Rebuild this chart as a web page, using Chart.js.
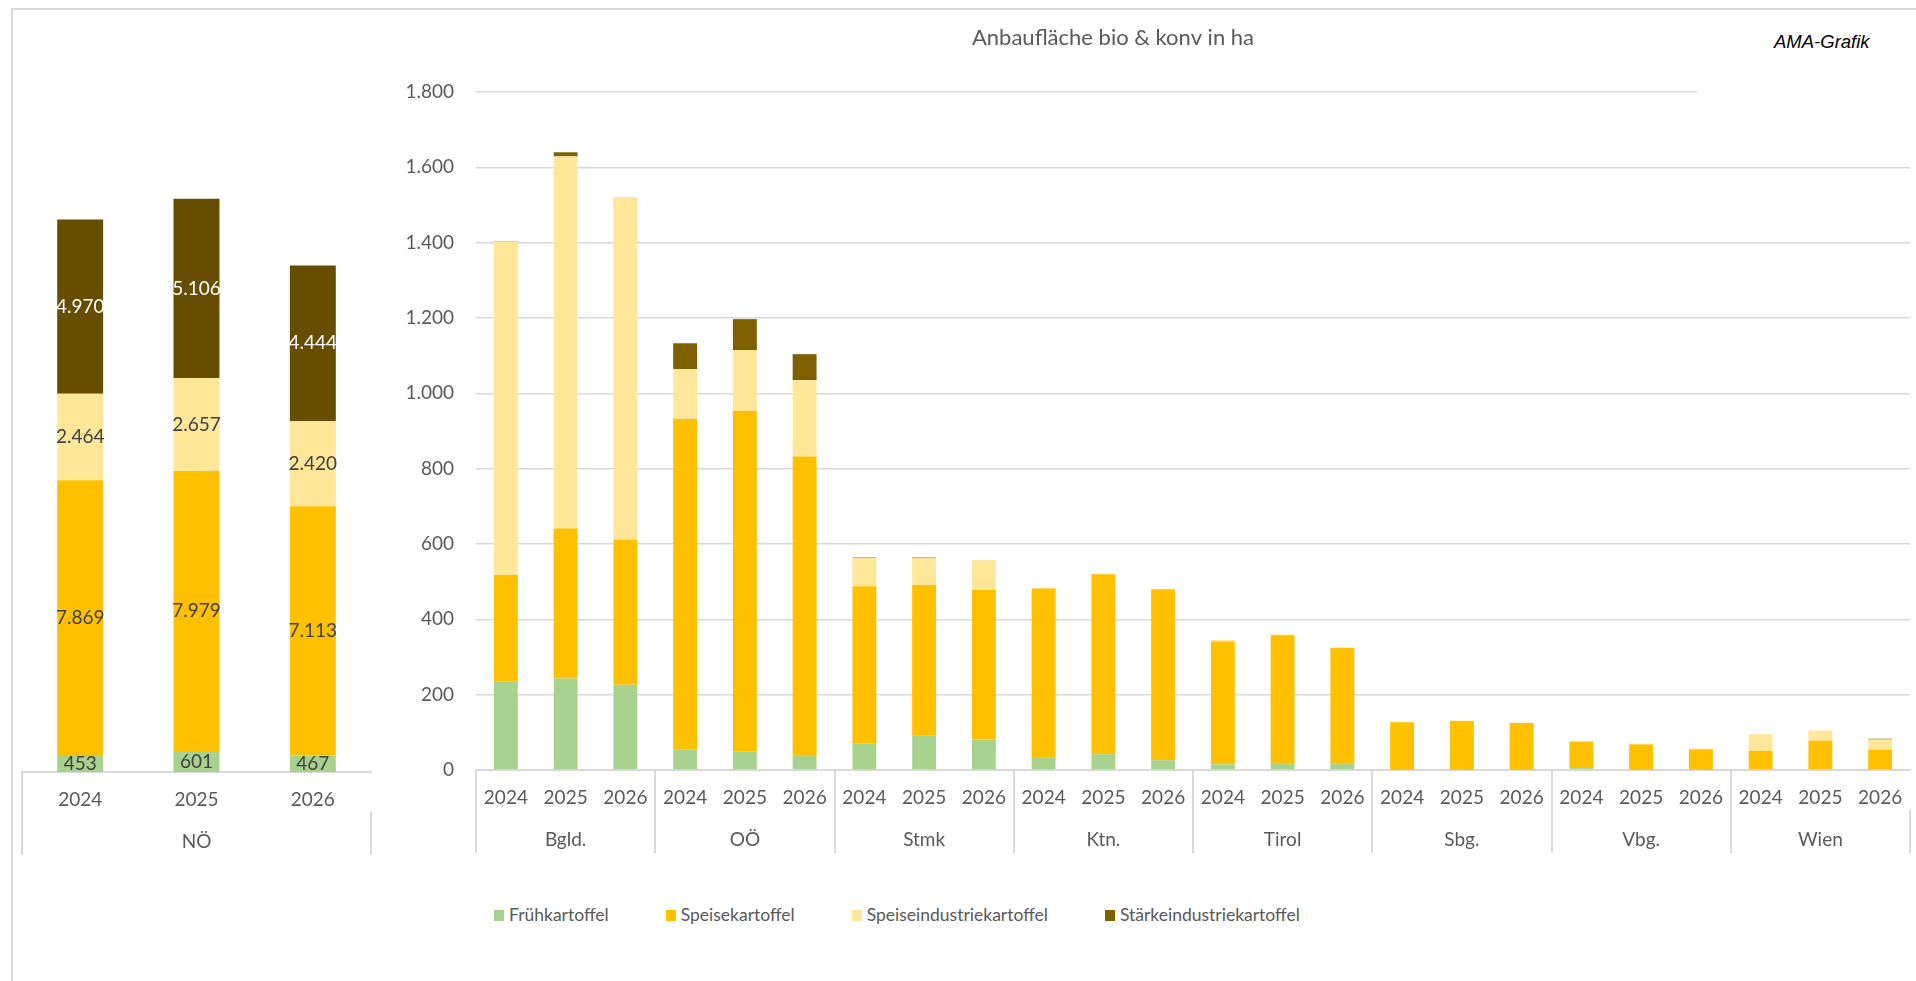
<!DOCTYPE html>
<html>
<head>
<meta charset="utf-8">
<script src="https://cdn.jsdelivr.net/npm/chart.js@4.4.1/dist/chart.umd.min.js"></script>
<style>
html,body{margin:0;padding:0;background:#fff;width:1916px;height:981px;overflow:hidden;font-family:Lato,sans-serif;}
#frame{position:absolute;left:11px;top:8px;width:1930px;height:1000px;border-left:2px solid #D9D9D9;border-top:2px solid #D9D9D9;}
#noe{position:absolute;left:0;top:0;}
#main{position:absolute;left:316px;top:0;}
#ama{position:absolute;left:1697px;top:22px;width:219px;height:80px;background:#fff;}
#ama span{position:absolute;left:77px;top:10px;font:italic 18.5px "Liberation Sans",Arial,sans-serif;line-height:20px;color:#000;white-space:nowrap;}
#legend{position:absolute;top:905px;left:494px;display:flex;gap:57px;}
.li{white-space:nowrap;font-size:17.5px;color:#595959;line-height:20px;display:flex;align-items:center;}
.sw{display:inline-block;width:10px;height:11px;margin-right:5px;}
</style>
</head>
<body>
<div id="frame"></div>
<canvas id="noe" width="400" height="860"></canvas>
<canvas id="main" width="1600" height="860"></canvas>
<div id="ama"><span>AMA-Grafik</span></div>
<div id="legend"></div>
<script>
// ---------- data ----------
const years = ['2024', '2025', '2026'];
const regions = ['Bgld.', 'OÖ', 'Stmk', 'Ktn.', 'Tirol', 'Sbg.', 'Vbg.', 'Wien'];
const noeLabel = ['NÖ'];
const seriesNames = ['Frühkartoffel', 'Speisekartoffel', 'Speiseindustriekartoffel', 'Stärkeindustriekartoffel'];
const chartTitle = 'Anbaufläche bio & konv in ha';

// NÖ (left chart)
const noeFrueh      = [453, 601, 467];
const noeSpeise     = [7869, 7979, 7113];
const noeSpeiseInd  = [2464, 2657, 2420];
const noeStaerke    = [4970, 5106, 4444];

// other federal states, 3 years each, in order of regions
const fruehkartoffel   = [234, 243, 226,  55, 49, 38,  71, 91, 81,  34, 42, 26,  15, 18, 18,  1, 1, 1,  5, 1, 1,  0, 0, 0];
const speisekartoffel  = [284, 398, 385,  877, 905, 794,  417, 400, 397,  448, 478, 454,  326, 340, 306,  126, 129, 124,  70, 67, 54,  51, 78, 54];
const speiseindustrie  = [885, 988, 910,  132, 161, 203,  74, 71, 79,  1, 1, 1,  4, 2, 2,  1, 1, 1,  2, 2, 2,  44, 27, 27];
const staerkeindustrie = [1, 11, 0,  69, 82, 69,  2, 2, 0,  0, 0, 0,  0, 0, 0,  0, 0, 0,  0, 0, 0,  0, 0, 2];

const yMaxMain = 1800, yStepMain = 200;
const yMaxNoe = 20000;

// ---------- style ----------
const colors = ['#A9D18E', '#FFC000', '#FFE699', '#7F6000'];
const noeColors = ['#A9D18E', '#FFC000', '#FFE699', '#664D00'];
const GRID = '#D9D9D9', TXT = '#595959', FONT = 'Lato';

function fmt(v) { return String(Math.round(v)).replace(/\B(?=(\d{3})+(?!\d))/g, '.'); }

// legend
const lg = document.getElementById('legend');
seriesNames.forEach((n, i) => {
  const d = document.createElement('div'); d.className = 'li';
  d.innerHTML = '<span class="sw" style="background:' + colors[i] + '"></span>' + n;
  lg.appendChild(d);
});

const segLabels = {
  id: 'segLabels',
  afterDatasetsDraw(chart) {
    const ctx = chart.ctx; ctx.save();
    ctx.font = '19px ' + FONT; ctx.textAlign = 'center'; ctx.textBaseline = 'middle';
    chart.data.datasets.forEach((ds, di) => {
      const meta = chart.getDatasetMeta(di);
      meta.data.forEach((el, i) => {
        ctx.fillStyle = di === 3 ? '#FFFFFF' : '#404040';
        ctx.fillText(fmt(ds.data[i]), el.x, (el.y + el.base) / 2);
      });
    });
    ctx.restore();
  }
};

function xScales(groupLabels, n) {
  return {
    x: {
      type: 'category', stacked: true, offset: true, weight: 0,
      grid: { display: true, drawOnChartArea: false, drawTicks: true, tickLength: 40, offset: true, lineWidth: 2,
              color: (c) => (c.index % n === 0) ? GRID : 'rgba(0,0,0,0)' },
      border: { display: true, color: GRID, width: 2 },
      ticks: { color: TXT, font: { family: FONT, size: 19 }, padding: -23.5, maxRotation: 0, minRotation: 0, autoSkip: false,
               callback: (v, i) => years[i % 3] },
      afterFit: (s) => { s.height = 40; }
    },
    x2: {
      type: 'category', labels: groupLabels, offset: true, position: 'bottom', weight: 1,
      grid: { display: true, drawOnChartArea: false, drawTicks: true, tickLength: 43, offset: true, lineWidth: 2, color: GRID },
      border: { display: false },
      ticks: { color: TXT, font: { family: FONT, size: 19 }, padding: -24.5, maxRotation: 0, minRotation: 0, autoSkip: false },
      afterFit: (s) => { s.height = 43; }
    }
  };
}

function draw() {
  Chart.defaults.font.family = FONT;

  // left chart: NÖ
  const noeSets = [noeFrueh, noeSpeise, noeSpeiseInd, noeStaerke].map((d, i) => ({
    label: seriesNames[i], data: d, backgroundColor: noeColors[i], borderWidth: 0,
    xAxisID: 'x', yAxisID: 'y', categoryPercentage: 1, barPercentage: 0.395
  }));
  const noeScales = xScales(noeLabel, 3);
  noeScales.y = { display: false, stacked: true, min: 0, max: yMaxNoe };
  new Chart(document.getElementById('noe'), {
    type: 'bar',
    data: { labels: years.map(y => 'NÖ ' + y), datasets: noeSets },
    options: {
      responsive: false, animation: false,
      layout: { padding: { left: 22, right: 29, top: 70.6, bottom: 5 } },
      plugins: { legend: { display: false }, tooltip: { enabled: false }, title: { display: false } },
      scales: noeScales
    },
    plugins: [segLabels]
  });

  // main chart
  const mainLabels = [];
  regions.forEach(r => years.forEach(y => mainLabels.push(r + ' ' + y)));
  const mainSets = [fruehkartoffel, speisekartoffel, speiseindustrie, staerkeindustrie].map((d, i) => ({
    label: seriesNames[i], data: d, backgroundColor: colors[i], borderWidth: 0,
    xAxisID: 'x', yAxisID: 'y', categoryPercentage: 1, barPercentage: 0.40
  }));
  const mainScales = xScales(regions, 3);
  mainScales.y = {
    stacked: true, min: 0, max: yMaxMain,
    ticks: { stepSize: yStepMain, color: TXT, font: { family: FONT, size: 19 }, padding: 22, callback: (v) => fmt(v) },
    grid: { color: GRID, lineWidth: 1.6, drawTicks: false },
    border: { display: false },
    afterFit: (s) => { s.width = 160; }
  };
  new Chart(document.getElementById('main'), {
    type: 'bar',
    data: { labels: mainLabels, datasets: mainSets },
    options: {
      responsive: false, animation: false,
      layout: { padding: { left: 0, right: 6, top: 0, bottom: 7 } },
      plugins: {
        legend: { display: false }, tooltip: { enabled: false },
        title: { display: true, text: chartTitle, color: TXT, font: { family: FONT, size: 22, weight: 'normal' },
                 padding: { top: 25, bottom: 40.6 } }
      },
      scales: mainScales
    }
  });
}

const fontsReady = (document.fonts && document.fonts.load)
  ? Promise.all([document.fonts.load('19px Lato'), document.fonts.load('italic 18px "Liberation Sans"')]).catch(() => {})
  : Promise.resolve();
fontsReady.then(draw);
</script>
</body>
</html>
